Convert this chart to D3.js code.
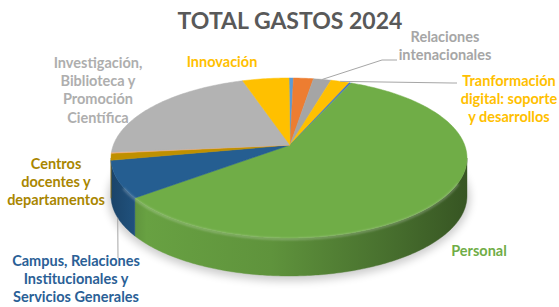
<!DOCTYPE html>
<html>
<head>
<meta charset="utf-8">
<script src="https://cdn.jsdelivr.net/npm/d3@7"></script>
<style>
  body { margin: 0; background: #fff; }
  svg { display: block; }
  text { font-family: Lato, "Open Sans", sans-serif; font-weight: 700; }
</style>
</head>
<body>
<div id="chart"></div>
<script>
// slices in drawing order, clockwise from 12 o'clock
const categories = [
  "Otros 1",
  "Otros 2",
  "Relaciones intenacionales",
  "Tranformación digital: soporte y desarrollos",
  "Otros 3",
  "Personal",
  "Campus, Relaciones Institucionales y Servicios Generales",
  "Centros docentes y departamentos",
  "Otros 4",
  "Investigación, Biblioteca y Promoción Científica",
  "Innovación"
];
// share of total spending (%)
const values = [0.4, 1.8, 1.6, 1.7, 0.2, 61.1, 7.9, 1.4, 0.2, 19.7, 4.2];
const colors = ["#5B9BD5", "#ED7D31", "#A5A5A5", "#FFC000", "#4472C4", "#70AD47",
                "#255E91", "#BF9000", "#F4B183", "#B3B3B3", "#FFC000"];
const labelLines = [
  [], [],
  ["Relaciones", "intenacionales"],
  ["Tranformación", "digital: soporte", "y desarrollos"],
  [],
  ["Personal"],
  ["Campus, Relaciones", "Institucionales y", "Servicios Generales"],
  ["Centros", "docentes y", "departamentos"],
  [],
  ["Investigación,", "Biblioteca y", "Promoción", "Científica"],
  ["Innovación"]
];
const title = "TOTAL GASTOS 2024";

const W = 559, H = 307;
const PIE = { cx: 289, cy: 158, rx: 178, ry: 80, depth: 38, apexX: 290, apexY: 145 };

// where each label sits (centre x, first baseline) and its leader line
const labelLayout = {
  2: { x: 445, y: 42, color: "#A6A6A6", leader: [[382, 60], [397, 60]] },
  3: { x: 509, y: 86, color: "#FFC000", leader: [[452, 83], [457, 83]] },
  5: { x: 479, y: 256, color: "#70AD47" },
  6: { x: 76, y: 266, color: "#2A6096", leaderSide: [[118, 258]] },
  7: { x: 56, y: 169, color: "#A98600" },
  9: { x: 98, y: 68, color: "#AEAEAE" },
  10: { x: 222, y: 67, color: "#FFC000" }
};

const svg = d3.select("#chart").append("svg").attr("width", W).attr("height", H);
const defs = svg.append("defs");

const arcs = d3.pie().sort(null).value(d => d)(values);

const rim = (t, dy = 0) => [PIE.cx + PIE.rx * Math.sin(t), PIE.cy - PIE.ry * Math.cos(t) + dy];
const steps = (a, b) => {
  const n = Math.max(2, Math.ceil((b - a) / 0.015));
  return d3.range(n + 1).map(i => a + (b - a) * i / n);
};
const line = d3.line();

// soft shadow under the pie
defs.append("filter").attr("id", "blur").attr("x", "-20%").attr("y", "-50%")
  .attr("width", "140%").attr("height", "200%")
  .append("feGaussianBlur").attr("stdDeviation", 4);
defs.append("filter").attr("id", "blur1")
  .append("feGaussianBlur").attr("stdDeviation", 1);

svg.append("ellipse")
  .attr("cx", PIE.cx).attr("cy", PIE.cy + PIE.depth + 2)
  .attr("rx", PIE.rx + 3).attr("ry", PIE.ry + 3)
  .attr("fill", "#000").attr("opacity", 0.2)
  .attr("filter", "url(#blur)");

// side walls (front half only)
arcs.forEach((d, i) => {
  const a = Math.max(d.startAngle, Math.PI / 2), b = Math.min(d.endAngle, 3 * Math.PI / 2);
  if (b <= a) return;
  const base = d3.color(colors[i]);
  const g = defs.append("linearGradient").attr("id", "side" + i)
    .attr("gradientUnits", "userSpaceOnUse")
    .attr("x1", PIE.cx - PIE.rx).attr("x2", PIE.cx + PIE.rx).attr("y1", 0).attr("y2", 0);
  [[0, 0.9], [0.1, 0.2], [0.45, 0.45], [0.8, 1.3], [1, 2.0]].forEach(s => {
    g.append("stop").attr("offset", s[0]).attr("stop-color", base.darker(s[1]).formatHex());
  });
  const top = steps(a, b).map(t => rim(t));
  const bot = steps(a, b).reverse().map(t => rim(t, PIE.depth));
  svg.append("path")
    .attr("d", line(top.concat(bot)) + "Z")
    .attr("fill", "url(#side" + i + ")")
    .attr("stroke", "url(#side" + i + ")").attr("stroke-width", 0.4);
});

// top faces
arcs.forEach((d, i) => {
  const pts = [[PIE.apexX, PIE.apexY]].concat(steps(d.startAngle, d.endAngle).map(t => rim(t)));
  svg.append("path")
    .attr("d", line(pts) + "Z")
    .attr("fill", colors[i])
    .attr("stroke", colors[i]).attr("stroke-width", 0.5);
});

// bevel highlight right on the front rim
svg.append("path")
  .attr("d", line(steps(Math.PI * 0.6, Math.PI * 1.38).map(t => rim(t, 1))))
  .attr("fill", "none").attr("stroke", "#fff").attr("stroke-opacity", 0.28)
  .attr("stroke-width", 2).attr("filter", "url(#blur1)");

// title
svg.append("text")
  .attr("x", 290).attr("y", 29)
  .attr("text-anchor", "middle")
  .attr("font-size", 23)
  .attr("fill", "#595959")
  .text(title);

// labels and leader lines
Object.keys(labelLayout).forEach(k => {
  const i = +k, L = labelLayout[k], d = arcs[i];
  const mid = (d.startAngle + d.endAngle) / 2;
  if (L.leader) {
    svg.append("path")
      .attr("d", line([rim(mid)].concat(L.leader)))
      .attr("fill", "none").attr("stroke", "#A6A6A6").attr("stroke-width", 1);
  }
  if (L.leaderSide) {
    svg.append("path")
      .attr("d", line([rim(mid, PIE.depth)].concat(L.leaderSide)))
      .attr("fill", "none").attr("stroke", "#A6A6A6").attr("stroke-width", 1);
  }
  const t = svg.append("text")
    .attr("text-anchor", "middle")
    .attr("font-size", 14.5)
    .attr("fill", L.color);
  labelLines[i].forEach((s, j) => {
    t.append("tspan").attr("x", L.x).attr("y", L.y + j * 18.2).text(s);
  });
});
</script>
</body>
</html>
